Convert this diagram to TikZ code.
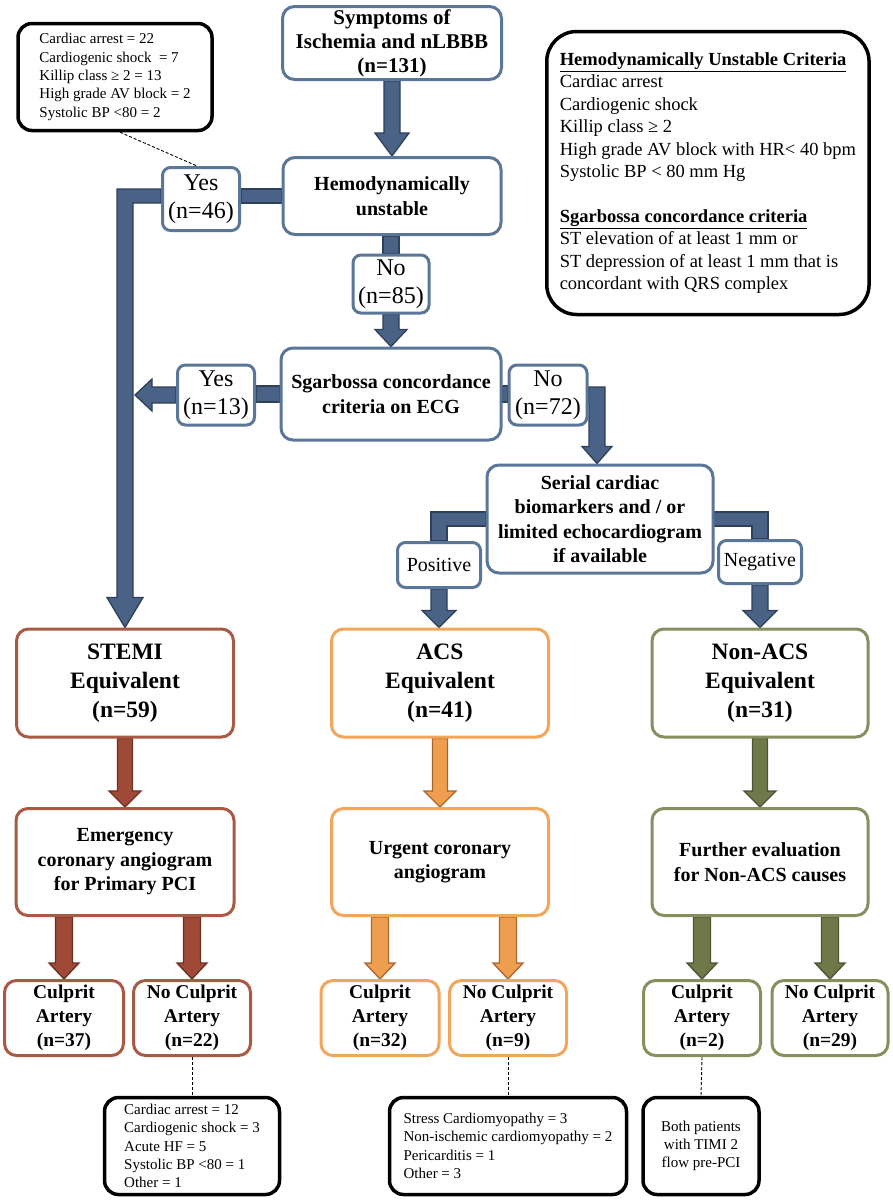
\documentclass[tikz,border=0pt]{standalone}
\usepackage{fontspec}
\setmainfont{Liberation Serif}
\usetikzlibrary{calc}
\definecolor{bbord}{HTML}{5A7699}
\definecolor{bfill}{HTML}{4A6285}
\definecolor{bline}{HTML}{2E405A}
\definecolor{rbord}{HTML}{A85A45}
\definecolor{rfill}{HTML}{9E4A37}
\definecolor{rline}{HTML}{6A3020}
\definecolor{obord}{HTML}{F2A65A}
\definecolor{ofill}{HTML}{EE9E4E}
\definecolor{oline}{HTML}{A8652C}
\definecolor{gbord}{HTML}{85905E}
\definecolor{gfill}{HTML}{6E7849}
\definecolor{gline}{HTML}{4D5433}
\pgfdeclarelayer{bg}
\pgfsetlayers{bg,main}
\newcommand\fsym{\fontsize{21}{24}\selectfont\bfseries}
\newcommand\fmid{\fontsize{20}{24.5}\selectfont\bfseries}
\newcommand\fbig{\fontsize{23.5}{29}\selectfont\bfseries}
\newcommand\fsmall{\fontsize{19.5}{24}\selectfont\bfseries}
\newcommand\flab{\fontsize{24}{28}\selectfont}
\newcommand\fpos{\fontsize{20}{24}\selectfont}
\newcommand\fnote{\fontsize{15}{18.3}\selectfont}
\newcommand\fcrit{\fontsize{18.5}{22.4}\selectfont}
% block arrow pointing down: style, start, tip, stem half width, head half width, head length
\newcommand\blockdown[6]{\draw[#1] ($(#2)+(-#4,0)$) -- ($(#3)+(-#4,-#6)$) -- ($(#3)+(-#5,-#6)$) -- (#3) -- ($(#3)+(#5,-#6)$) -- ($(#3)+(#4,-#6)$) -- ($(#2)+(#4,0)$) -- cycle;}
% block arrow pointing left
\newcommand\blockleft[6]{\draw[#1] ($(#2)+(0,-#4)$) -- ($(#3)+(#6,-#4)$) -- ($(#3)+(#6,-#5)$) -- (#3) -- ($(#3)+(#6,#5)$) -- ($(#3)+(#6,#4)$) -- ($(#2)+(0,#4)$) -- cycle;}
\tikzset{
  sz/.style 2 args={minimum width=#1pt, minimum height=#2pt},
  box/.style={draw, rounded corners=12pt, line width=3pt, fill=white, align=center, inner sep=0pt},
  bbox/.style={box, draw=bbord},
  rbox/.style={box, draw=rbord},
  obox/.style={box, draw=obord},
  gbox/.style={box, draw=gbord},
  lab/.style={draw=bbord, rounded corners=8pt, line width=3pt, fill=white, align=center, inner sep=0pt, font=\flab},
  lab2/.style={lab, font=\fpos},
  note/.style={draw=black, line width=3.5pt, rounded corners=14pt, fill=white, align=left, inner sep=0pt, font=\fnote},
  barrow/.style={fill=bfill, draw=bline, line width=1.3pt, line join=miter},
  rarrow/.style={fill=rfill, draw=rline, line width=1.3pt, line join=miter},
  oarrow/.style={fill=ofill, draw=oline, line width=1.3pt, line join=miter},
  garrow/.style={fill=gfill, draw=gline, line width=1.3pt, line join=miter},
  dashline/.style={draw=black, line width=0.9pt, dash pattern=on 3pt off 2pt}
}
\begin{document}
\begin{tikzpicture}[x=1pt,y=-1pt]
\useasboundingbox (0,0) rectangle (893,1200);
% main flow
\node[bbox, font=\fsym, sz={219}{73}] (sym) at (392,43) {Symptoms of\\Ischemia and nLBBB\\(n=131)};
\node[bbox, font=\fmid, sz={218}{77}] (hemo) at (392,196) {Hemodynamically\\unstable};
\node[lab, sz={77}{63}] (yes46) at (201,199) {Yes\\(n=46)};
\node[lab, sz={76}{58}] (no85) at (391,284) {No\\(n=85)};
\node[bbox, font=\fmid, sz={220}{92}] (sgar) at (391,394) {Sgarbossa concordance\\criteria on ECG};
\node[lab, sz={77}{60}] (yes13) at (216,395) {Yes\\(n=13)};
\node[lab, sz={78}{60}] (no72) at (548,395) {No\\(n=72)};
\node[bbox, font=\fmid, sz={226}{108}] (serial) at (600,519) {Serial cardiac\\biomarkers and / or\\limited echocardiogram\\if available};
\node[lab2, sz={83}{45}] (pos) at (439,565) {Positive};
\node[lab2, sz={83}{43}] (neg) at (760,562) {Negative};
% level 3
\node[rbox, font=\fbig, sz={217}{108}] (stemi) at (125,683) {STEMI\\Equivalent\\(n=59)};
\node[obox, font=\fbig, sz={217}{108}] (acs) at (440,683) {ACS\\Equivalent\\(n=41)};
\node[gbox, font=\fbig, sz={216}{108}] (nonacs) at (760,683) {Non-ACS\\Equivalent\\(n=31)};
\node[rbox, font=\fmid, sz={218}{107}] (emerg) at (125,862) {Emergency\\coronary angiogram\\for Primary PCI};
\node[obox, font=\fmid, sz={217}{107}] (urgent) at (440,862) {Urgent coronary\\angiogram};
\node[gbox, font=\fmid, sz={216}{107}] (further) at (760,862) {Further evaluation\\for Non-ACS causes};
% level 4
\node[rbox, font=\fsmall, sz={119}{75}] (c1) at (64,1018) {Culprit\\Artery\\(n=37)};
\node[rbox, font=\fsmall, sz={117}{75}] (c2) at (192,1018) {No Culprit\\Artery\\(n=22)};
\node[obox, font=\fsmall, sz={118}{75}] (c3) at (380,1018) {Culprit\\Artery\\(n=32)};
\node[obox, font=\fsmall, sz={117}{75}] (c4) at (508,1018) {No Culprit\\Artery\\(n=9)};
\node[gbox, font=\fsmall, sz={117}{75}] (c5) at (702,1018) {Culprit\\Artery\\(n=2)};
\node[gbox, font=\fsmall, sz={116}{75}] (c6) at (830,1018) {No Culprit\\Artery\\(n=29)};
% notes
\node[note, sz={194}{107}] (tl) at (115,77) {Cardiac arrest = 22\\Cardiogenic shock~ = 7\\Killip class ≥ 2 = 13\\High grade AV block = 2\\Systolic BP <80 = 2};
\node[note, rounded corners=30pt, font=\fcrit, anchor=west, minimum height=283pt, inner xsep=13pt] (crit) at (545,173) {\underline{\textbf{Hemodynamically Unstable Criteria}}\\Cardiac arrest\\Cardiogenic shock\\Killip class ≥ 2\\High grade AV block with HR< 40 bpm\\Systolic BP < 80 mm Hg\\[22.4pt]\underline{\textbf{Sgarbossa concordance criteria}}\\ST elevation of at least 1 mm or\\ST depression of at least 1 mm that is\\concordant with QRS complex};
\node[note, sz={175}{97}] (n1) at (192,1146) {Cardiac arrest = 12\\Cardiogenic shock = 3\\Acute HF = 5\\Systolic BP <80 = 1\\Other = 1};
\node[note, sz={237}{97}] (n2) at (508,1146) {Stress Cardiomyopathy = 3\\Non-ischemic cardiomyopathy = 2\\Pericarditis = 1\\Other = 3};
\node[note, align=center, sz={116}{97}] (n3) at (701,1146) {Both patients\\with TIMI 2\\flow pre-PCI};
% connectors
\begin{pgfonlayer}{bg}
\draw[dashline] ([xshift=5pt]tl.south) -- ([xshift=-4pt]yes46.north);
\draw[dashline] (c2.south) -- (n1.north);
\draw[dashline] (c4.south) -- (n2.north);
\draw[dashline] (c5.south) -- (n3.north);
% symptoms -> hemodynamic
\blockdown{barrow}{sym.south}{hemo.north}{8}{17}{23}
% hemo -> no85
\coordinate (h3) at (no85.north |- hemo.south);
\draw[barrow] ($(h3)+(-8,0)$) rectangle ($(no85.north)+(8,0)$);
% no85 -> sgarbossa
\coordinate (h4) at (no85.south |- sgar.north);
\blockdown{barrow}{no85.south}{h4}{8}{16}{17}
% hemo -> yes46 -> STEMI
\coordinate (h1) at (yes46.east |- hemo.west);
\draw[barrow] ($(h1)+(0,-7)$) rectangle ($(hemo.west)+(0,7)$);
\coordinate (h2) at (yes46.west |- hemo.west);
\coordinate (k1) at (stemi.north |- hemo.west);
\draw[barrow] ($(h2)+(0,-7)$) -- ($(k1)+(-8,-7)$) -- ($(stemi.north)+(-8,-30)$) -- ($(stemi.north)+(-18,-30)$) -- (stemi.north) -- ($(stemi.north)+(18,-30)$) -- ($(stemi.north)+(8,-30)$) -- ($(k1)+(8,7)$) -- ($(h2)+(0,7)$) -- cycle;
% sgarbossa -> yes13 -> left
\coordinate (g1) at (yes13.east |- sgar.west);
\draw[barrow] ($(g1)+(0,-8)$) rectangle ($(sgar.west)+(0,8)$);
\coordinate (t13a) at (stemi.north |- yes13.west);
\coordinate (t13) at ($(t13a)+(10,0)$);
\blockleft{barrow}{yes13.west}{t13}{8}{16}{17}
% sgarbossa -> no72 -> serial
\coordinate (g2) at (no72.west |- sgar.east);
\draw[barrow] ($(sgar.east)+(0,-8)$) rectangle ($(g2)+(0,8)$);
\coordinate (t72) at ($(serial.north)+(-3,0)$);
\coordinate (e72) at (t72 |- no72.east);
\draw[barrow] ($(no72.east)+(0,-8)$) -- ($(e72)+(8,-8)$) -- ($(t72)+(8,-17)$) -- ($(t72)+(15,-17)$) -- (t72) -- ($(t72)+(-15,-17)$) -- ($(t72)+(-8,-17)$) -- ($(e72)+(-8,8)$) -- ($(no72.east)+(0,8)$) -- cycle;
% serial -> positive -> ACS
\coordinate (p1) at (pos.north |- serial.west);
\draw[barrow] ($(serial.west)+(0,-7)$) -- ($(p1)+(-8,-7)$) -- ($(pos.north)+(-8,0)$) -- ($(pos.north)+(8,0)$) -- ($(p1)+(8,7)$) -- ($(serial.west)+(0,7)$) -- cycle;
\coordinate (p2) at (pos.south |- acs.north);
\blockdown{barrow}{pos.south}{p2}{8}{17}{17}
% serial -> negative -> non-ACS
\coordinate (q1) at (neg.north |- serial.east);
\draw[barrow] ($(serial.east)+(0,-7)$) -- ($(q1)+(8,-7)$) -- ($(neg.north)+(8,0)$) -- ($(neg.north)+(-8,0)$) -- ($(q1)+(-8,7)$) -- ($(serial.east)+(0,7)$) -- cycle;
\coordinate (q2) at (neg.south |- nonacs.north);
\blockdown{barrow}{neg.south}{q2}{8}{17}{17}
% level 3 -> level 3b
\blockdown{rarrow}{stemi.south}{emerg.north}{7.5}{16}{16}
\blockdown{oarrow}{acs.south}{urgent.north}{7.5}{16}{16}
\blockdown{garrow}{nonacs.south}{further.north}{7.5}{16}{16}
% level 3b -> level 4
\coordinate (s1) at (c1.north |- emerg.south);
\coordinate (s2) at (c2.north |- emerg.south);
\coordinate (s3) at (c3.north |- urgent.south);
\coordinate (s4) at (c4.north |- urgent.south);
\coordinate (s5) at (c5.north |- further.south);
\coordinate (s6) at (c6.north |- further.south);
\blockdown{rarrow}{s1}{c1.north}{8.5}{15}{16}
\blockdown{rarrow}{s2}{c2.north}{8.5}{15}{16}
\blockdown{oarrow}{s3}{c3.north}{8.5}{15}{16}
\blockdown{oarrow}{s4}{c4.north}{8.5}{15}{16}
\blockdown{garrow}{s5}{c5.north}{8.5}{15}{16}
\blockdown{garrow}{s6}{c6.north}{8.5}{15}{16}
\end{pgfonlayer}
\end{tikzpicture}
\end{document}
